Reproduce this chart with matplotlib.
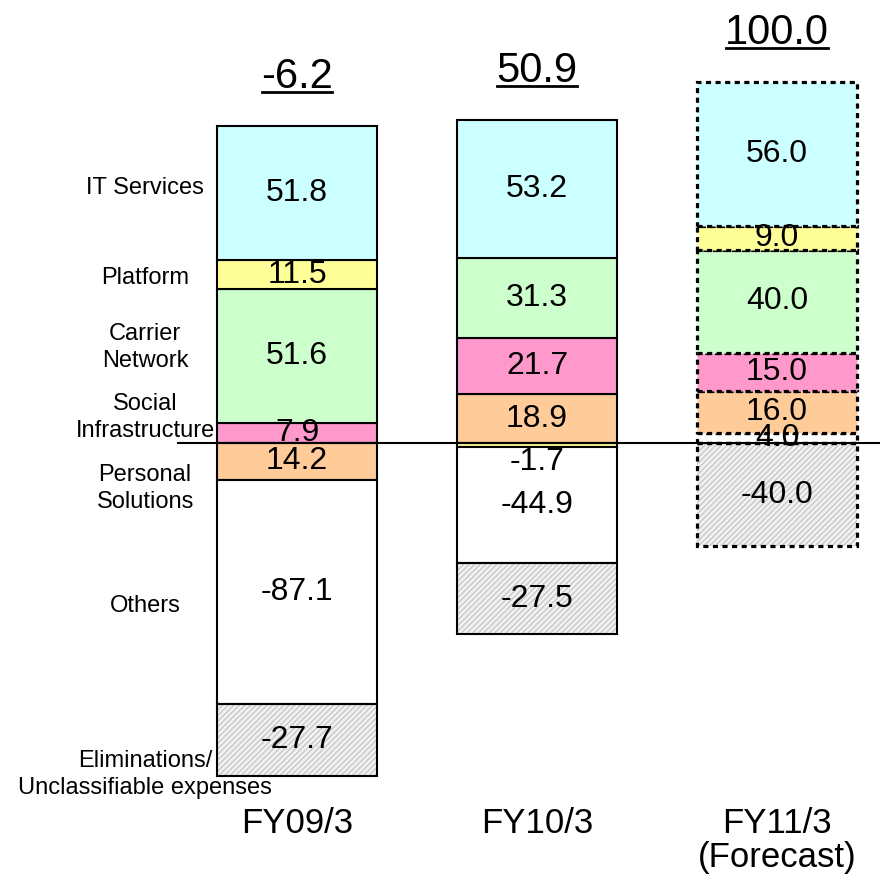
import numpy as np
import matplotlib
matplotlib.use("Agg")
import matplotlib.pyplot as plt
from matplotlib.lines import Line2D

plt.rcParams['font.family'] = ['Liberation Sans', 'DejaVu Sans']

# operating income by segment (billion yen)
segments = ["IT Services", "Platform", "Carrier Network", "Social Infrastructure",
            "Personal Solutions", "Others", "Eliminations"]
fy09 = [51.8, 11.5, 51.6, 7.9, -14.2, -87.1, -27.7]
fy10 = [53.2, -1.7, 31.3, 21.7, 18.9, -44.9, -27.5]
fy11 = [56.0, 9.0, 40.0, 15.0, 16.0, 4.0, -40.0]
totals = [-6.2, 50.9, 100.0]
years = ["FY09/3", "FY10/3", "FY11/3\n(Forecast)"]

colors = {
    "IT Services": "#ccffff",
    "Platform": "#ffff99",
    "Carrier Network": "#ccffcc",
    "Social Infrastructure": "#ff99cc",
    "Personal Solutions": "#ffcc99",
    "Others": "#ffffff",
    "Eliminations": "#f2f2f2",
}

# stacking order: positives upward from zero, negatives downward from zero
pos_order = ["Others", "Personal Solutions", "Social Infrastructure",
             "Carrier Network", "Platform", "IT Services"]
neg_order = ["Platform", "Personal Solutions", "Others", "Eliminations"]

side_labels = ["IT Services", "Platform", "Carrier\nNetwork", "Social\nInfrastructure",
               "Personal\nSolutions", "Others", "Eliminations/\nUnclassifiable expenses"]
side_label_y = [99, 64, 37, 10, -17.5, -63, -128.5]

fig = plt.figure(figsize=(8.8, 8.85), dpi=100)
ax = fig.add_axes([0, 0, 1, 1])
ax.set_xlim(-1.2375, 2.429)
ax.set_ylim(-171.3, 171.7)
ax.axis("off")

width = 0.667
tops = []
for i, vals in enumerate([fy09, fy10, fy11]):
    d = dict(zip(segments, vals))
    forecast = i == 2
    ls = (0, (1.6, 1.4)) if forecast else "-"
    lw = 2.3 if forecast else 1.5
    up, down = 0.0, 0.0
    pieces = []
    for s in pos_order:
        if d[s] > 0:
            pieces.append((s, up, d[s]))
            up += d[s]
    for s in neg_order:
        if d[s] < 0:
            pieces.append((s, down, d[s]))
            down += d[s]
    tops.append(up)
    for s, base, v in pieces:
        if s == "Eliminations":
            ax.bar(i, v, width, bottom=base, color=colors[s], edgecolor="#c8c8c8",
                   hatch="//////", linewidth=0, zorder=2)
            ax.bar(i, v, width, bottom=base, fill=False, edgecolor="black",
                   linewidth=lw, linestyle=ls, zorder=3)
        else:
            ax.bar(i, v, width, bottom=base, color=colors[s], edgecolor="black",
                   linewidth=lw, linestyle=ls, zorder=3)
        yc = base + v / 2
        if s == "Platform" and v < 0:
            yc = base + v - 5.7
        txt = f"{abs(v):.1f}" if (i == 0 and s == "Personal Solutions") else f"{v:.1f}"
        ax.text(i, yc, txt, ha="center", va="center", fontsize=23, zorder=5)

# zero line
ax.plot([-0.496, 2.429], [0, 0], color="black", linewidth=1.5, zorder=4)

for lab, y in zip(side_labels, side_label_y):
    ax.text(-0.633, y, lab, ha="center", va="center", fontsize=17, linespacing=1.3)

# year labels, one baseline per line
for i, yr in enumerate(years):
    for k, line in enumerate(yr.split("\n")):
        ax.text(i, -151.2 - 13.2 * k, line, ha="center", va="baseline", fontsize=25)

total_texts = []
for i, t in enumerate(totals):
    total_texts.append(ax.text(i, tops[i] + 14.8, f"{t:.1f}", ha="center",
                               va="baseline", fontsize=30))

# underline the totals
fig.canvas.draw()
r = fig.canvas.get_renderer()
for t in total_texts:
    bb = t.get_window_extent(r)
    base = ax.transData.transform(t.get_position())[1]
    y = base - 4
    fig.add_artist(Line2D([bb.x0 + 1, bb.x1 - 1], [y, y], transform=None,
                          color="black", linewidth=2))

fig.savefig("out.png", dpi=100)
